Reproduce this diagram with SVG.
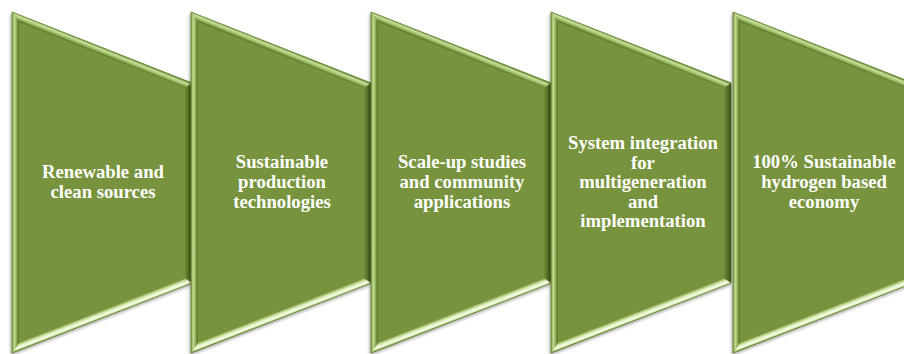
<svg xmlns="http://www.w3.org/2000/svg" width="904" height="354" viewBox="0 0 904 354">
<style>
.base{fill:#78933c;stroke:#5b7726;stroke-width:0.8;filter:url(#sh)}
.bt{fill:url(#gTop)}
.bl{fill:url(#gLeft)}
.bb{fill:url(#gBot)}
.br{fill:url(#gRight)}
.lbl{font-family:"Liberation Serif","Times New Roman",serif;font-weight:bold;font-size:18.67px;fill:#ffffff;text-anchor:middle}
</style>
<defs>
<filter id="sh" x="-10%" y="-10%" width="120%" height="120%">
<feDropShadow dx="-1" dy="2" stdDeviation="1.6" flood-color="#000" flood-opacity="0.35"/>
</filter>
<linearGradient id="gTop" gradientUnits="userSpaceOnUse" x1="90" y1="47.5" x2="87.2" y2="54.5">
<stop offset="0" stop-color="#6a8a33"/>
<stop offset="0.25" stop-color="#c6e09b"/>
<stop offset="0.55" stop-color="#a2c06a"/>
<stop offset="0.85" stop-color="#5e7c2a"/>
<stop offset="1" stop-color="#6f8b35"/>
</linearGradient>
<linearGradient id="gLeft" gradientUnits="userSpaceOnUse" x1="0" y1="0" x2="7" y2="0">
<stop offset="0" stop-color="#65842f"/>
<stop offset="0.3" stop-color="#c4df97"/>
<stop offset="0.6" stop-color="#98b85d"/>
<stop offset="0.9" stop-color="#5d7b29"/>
<stop offset="1" stop-color="#6c8934"/>
</linearGradient>
<linearGradient id="gBot" gradientUnits="userSpaceOnUse" x1="87.3" y1="311" x2="90" y2="318">
<stop offset="0" stop-color="#7a963f"/>
<stop offset="0.35" stop-color="#cbe3a0"/>
<stop offset="0.65" stop-color="#f8fdec"/>
<stop offset="0.85" stop-color="#dcefba"/>
<stop offset="1" stop-color="#6a8a33"/>
</linearGradient>
<linearGradient id="gRight" gradientUnits="userSpaceOnUse" x1="173" y1="0" x2="180" y2="0">
<stop offset="0" stop-color="#6e8c36"/>
<stop offset="1" stop-color="#3e5618"/>
</linearGradient>
<g id="shape">
<polygon class="base" points="0,12 180,83 180,283 0,353"/>
<polygon class="br" points="180,83 180,283 173,278.2 173,87.8"/>
<polygon class="bt" points="0,12 180,83 173,87.8 7,22.3"/>
<polygon class="bb" points="0,353 7,342.8 173,278.2 180,283"/>
<polygon class="bl" points="0,12 7,22.3 7,342.8 0,353"/>
</g>
</defs>
<g id="connectors"></g>
<g id="node1" transform="translate(12,0)">
<use href="#shape"/>
<text class="lbl"><tspan x="91" y="178">Renewable and</tspan><tspan x="91" y="198">clean sources</tspan></text>
</g>
<g id="node2" transform="translate(191,0)">
<use href="#shape"/>
<text class="lbl"><tspan x="91" y="168">Sustainable</tspan><tspan x="91" y="188">production</tspan><tspan x="91" y="208">technologies</tspan></text>
</g>
<g id="node3" transform="translate(371,0)">
<use href="#shape"/>
<text class="lbl"><tspan x="91" y="168">Scale-up studies</tspan><tspan x="91" y="188">and community</tspan><tspan x="91" y="208">applications</tspan></text>
</g>
<g id="node4" transform="translate(551,0)">
<use href="#shape"/>
<text class="lbl"><tspan x="92" y="149">System integration</tspan><tspan x="92" y="168.5">for</tspan><tspan x="92" y="188">multigeneration</tspan><tspan x="92" y="207.5">and</tspan><tspan x="92" y="227">implementation</tspan></text>
</g>
<g id="node5" transform="translate(733,0)">
<use href="#shape"/>
<text class="lbl"><tspan x="91" y="168">100% Sustainable</tspan><tspan x="91" y="188">hydrogen based</tspan><tspan x="91" y="208">economy</tspan></text>
</g>
</svg>
